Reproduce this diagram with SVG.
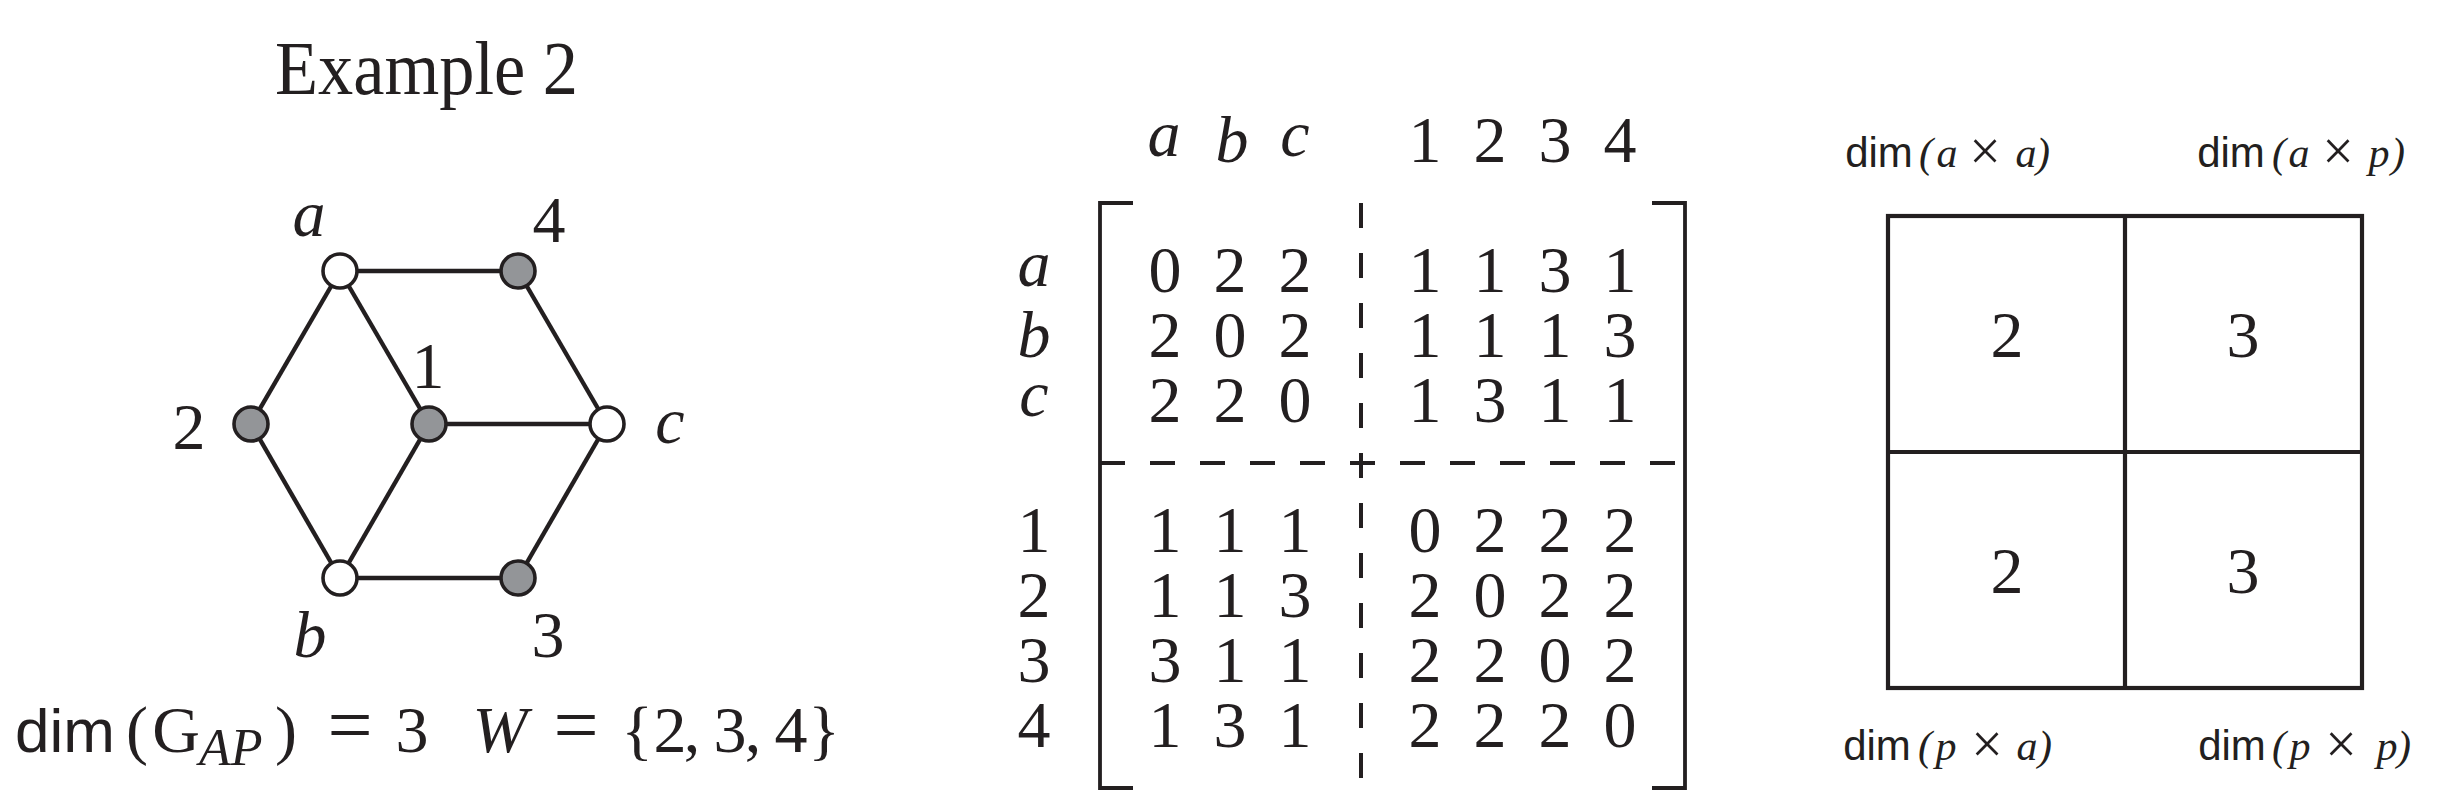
<svg xmlns="http://www.w3.org/2000/svg" width="2437" height="811" viewBox="0 0 2437 811">
<style>
text { fill: #231f20; }
.r { font-family: "Liberation Serif", "Times New Roman", serif; }
.i { font-family: "Liberation Serif", "Times New Roman", serif; font-style: italic; }
.s { font-family: "Liberation Sans", Arial, sans-serif; }
.m { text-anchor: middle; }
.big { font-size: 66px; }
.lab { font-size: 42px; }
.x { font-size: 56px; }
.edge { stroke: #231f20; stroke-width: 4.4; fill: none; }
.open { fill: #ffffff; stroke: #231f20; stroke-width: 3.6; }
.dark { fill: #939598; stroke: #231f20; stroke-width: 3.6; }
.br { stroke: #231f20; stroke-width: 3.8; fill: none; }
.dash { stroke: #231f20; stroke-width: 4; fill: none; stroke-dasharray: 25 25; }
.box { stroke: #231f20; stroke-width: 4.2; fill: none; }
</style>
<rect width="2437" height="811" fill="#ffffff"/>

<g id="title">
<text class="r" x="275" y="94" font-size="77" textLength="303" lengthAdjust="spacingAndGlyphs">Example 2</text>
</g>

<g id="connectors">
<line class="edge" x1="340" y1="271" x2="518" y2="271"/>
<line class="edge" x1="340" y1="271" x2="251" y2="424"/>
<line class="edge" x1="340" y1="271" x2="429" y2="424"/>
<line class="edge" x1="518" y1="271" x2="607" y2="424"/>
<line class="edge" x1="251" y1="424" x2="340" y2="578"/>
<line class="edge" x1="429" y1="424" x2="607" y2="424"/>
<line class="edge" x1="429" y1="424" x2="340" y2="578"/>
<line class="edge" x1="607" y1="424" x2="518" y2="578"/>
<line class="edge" x1="340" y1="578" x2="518" y2="578"/>
</g>

<g id="node-a"><circle class="open" cx="340" cy="271" r="17"/><text class="i m big" x="309" y="236">a</text></g>
<g id="node-4"><circle class="dark" cx="518" cy="271" r="17"/><text class="r m big" x="549" y="242">4</text></g>
<g id="node-2"><circle class="dark" cx="251" cy="424" r="17"/><text class="r m big" x="189" y="449">2</text></g>
<g id="node-1"><circle class="dark" cx="429" cy="424" r="17"/><text class="r m big" x="428" y="388">1</text></g>
<g id="node-c"><circle class="open" cx="607" cy="424" r="17"/><text class="i m big" x="670" y="443">c</text></g>
<g id="node-b"><circle class="open" cx="340" cy="578" r="17"/><text class="i m big" x="310" y="657">b</text></g>
<g id="node-3"><circle class="dark" cx="518" cy="578" r="17"/><text class="r m big" x="548" y="657">3</text></g>

<g id="formula">
<text class="s" x="15" y="752" font-size="62">dim</text>
<text class="r m big" x="137" y="752">(</text>
<text class="r m big" x="176" y="752">G</text>
<text class="i" x="199" y="765" font-size="52">AP</text>
<text class="r m big" x="286" y="752">)</text>
<text class="r m" x="350" y="752" font-size="80">=</text>
<text class="r m big" x="412" y="752">3</text>
<text class="i m big" x="500" y="752">W</text>
<text class="r m" x="576" y="752" font-size="80">=</text>
<text class="r m big" x="637" y="752">{</text>
<text class="r m big" x="670" y="752">2</text>
<text class="r m big" x="692" y="752">,</text>
<text class="r m big" x="730" y="752">3</text>
<text class="r m big" x="753" y="752">,</text>
<text class="r m big" x="791" y="752">4</text>
<text class="r m big" x="824" y="752">}</text>
</g>

<g id="matrix">
<g id="col-headers">
<text class="i m big" x="1164" y="156">a</text>
<text class="i m big" x="1232" y="162">b</text>
<text class="i m big" x="1295" y="156">c</text>
<text class="r m big" x="1425" y="162">1</text>
<text class="r m big" x="1490" y="162">2</text>
<text class="r m big" x="1555" y="162">3</text>
<text class="r m big" x="1620" y="162">4</text>
</g>
<g id="row-labels">
<text class="i m big" x="1034" y="286">a</text>
<text class="i m big" x="1034" y="357">b</text>
<text class="i m big" x="1034" y="416">c</text>
<text class="r m big" x="1034" y="552">1</text>
<text class="r m big" x="1034" y="617">2</text>
<text class="r m big" x="1034" y="682">3</text>
<text class="r m big" x="1034" y="747">4</text>
</g>
<g id="brackets">
<polyline class="br" points="1133,203 1100,203 1100,788 1133,788"/>
<polyline class="br" points="1652,203 1685,203 1685,788 1652,788"/>
<line class="dash" x1="1361" y1="203" x2="1361" y2="778"/>
<line class="dash" x1="1100" y1="463" x2="1675" y2="463"/>
</g>
<g id="entries">
<text class="r m big" x="1165" y="292">0</text><text class="r m big" x="1230" y="292">2</text><text class="r m big" x="1295" y="292">2</text>
<text class="r m big" x="1425" y="292">1</text><text class="r m big" x="1490" y="292">1</text><text class="r m big" x="1555" y="292">3</text><text class="r m big" x="1620" y="292">1</text>
<text class="r m big" x="1165" y="357">2</text><text class="r m big" x="1230" y="357">0</text><text class="r m big" x="1295" y="357">2</text>
<text class="r m big" x="1425" y="357">1</text><text class="r m big" x="1490" y="357">1</text><text class="r m big" x="1555" y="357">1</text><text class="r m big" x="1620" y="357">3</text>
<text class="r m big" x="1165" y="422">2</text><text class="r m big" x="1230" y="422">2</text><text class="r m big" x="1295" y="422">0</text>
<text class="r m big" x="1425" y="422">1</text><text class="r m big" x="1490" y="422">3</text><text class="r m big" x="1555" y="422">1</text><text class="r m big" x="1620" y="422">1</text>
<text class="r m big" x="1165" y="552">1</text><text class="r m big" x="1230" y="552">1</text><text class="r m big" x="1295" y="552">1</text>
<text class="r m big" x="1425" y="552">0</text><text class="r m big" x="1490" y="552">2</text><text class="r m big" x="1555" y="552">2</text><text class="r m big" x="1620" y="552">2</text>
<text class="r m big" x="1165" y="617">1</text><text class="r m big" x="1230" y="617">1</text><text class="r m big" x="1295" y="617">3</text>
<text class="r m big" x="1425" y="617">2</text><text class="r m big" x="1490" y="617">0</text><text class="r m big" x="1555" y="617">2</text><text class="r m big" x="1620" y="617">2</text>
<text class="r m big" x="1165" y="682">3</text><text class="r m big" x="1230" y="682">1</text><text class="r m big" x="1295" y="682">1</text>
<text class="r m big" x="1425" y="682">2</text><text class="r m big" x="1490" y="682">2</text><text class="r m big" x="1555" y="682">0</text><text class="r m big" x="1620" y="682">2</text>
<text class="r m big" x="1165" y="747">1</text><text class="r m big" x="1230" y="747">3</text><text class="r m big" x="1295" y="747">1</text>
<text class="r m big" x="1425" y="747">2</text><text class="r m big" x="1490" y="747">2</text><text class="r m big" x="1555" y="747">2</text><text class="r m big" x="1620" y="747">0</text>
</g>
</g>

<g id="block-grid">
<rect class="box" x="1888" y="216" width="474" height="472"/>
<line class="box" x1="2125" y1="216" x2="2125" y2="688"/>
<line class="box" x1="1888" y1="452" x2="2362" y2="452"/>
<text class="r m big" x="2007" y="357">2</text>
<text class="r m big" x="2243" y="357">3</text>
<text class="r m big" x="2007" y="593">2</text>
<text class="r m big" x="2243" y="593">3</text>
</g>

<g id="label-aa">
<text class="s m lab" x="1879" y="167">dim</text>
<text class="i m lab" x="1926" y="167">(</text>
<text class="i m lab" x="1947" y="167">a</text>
<text class="r m x" x="1985" y="170">×</text>
<text class="i m lab" x="2026" y="167">a</text>
<text class="i m lab" x="2043" y="167">)</text>
</g>
<g id="label-ap">
<text class="s m lab" x="2231" y="167">dim</text>
<text class="i m lab" x="2279" y="167">(</text>
<text class="i m lab" x="2299" y="167">a</text>
<text class="r m x" x="2338" y="170">×</text>
<text class="i m lab" x="2379" y="167">p</text>
<text class="i m lab" x="2398" y="167">)</text>
</g>
<g id="label-pa">
<text class="s m lab" x="1877" y="760">dim</text>
<text class="i m lab" x="1925" y="760">(</text>
<text class="i m lab" x="1946" y="760">p</text>
<text class="r m x" x="1987" y="763">×</text>
<text class="i m lab" x="2027" y="760">a</text>
<text class="i m lab" x="2045" y="760">)</text>
</g>
<g id="label-pp">
<text class="s m lab" x="2232" y="760">dim</text>
<text class="i m lab" x="2279" y="760">(</text>
<text class="i m lab" x="2300" y="760">p</text>
<text class="r m x" x="2341" y="763">×</text>
<text class="i m lab" x="2387" y="760">p</text>
<text class="i m lab" x="2404" y="760">)</text>
</g>
</svg>
